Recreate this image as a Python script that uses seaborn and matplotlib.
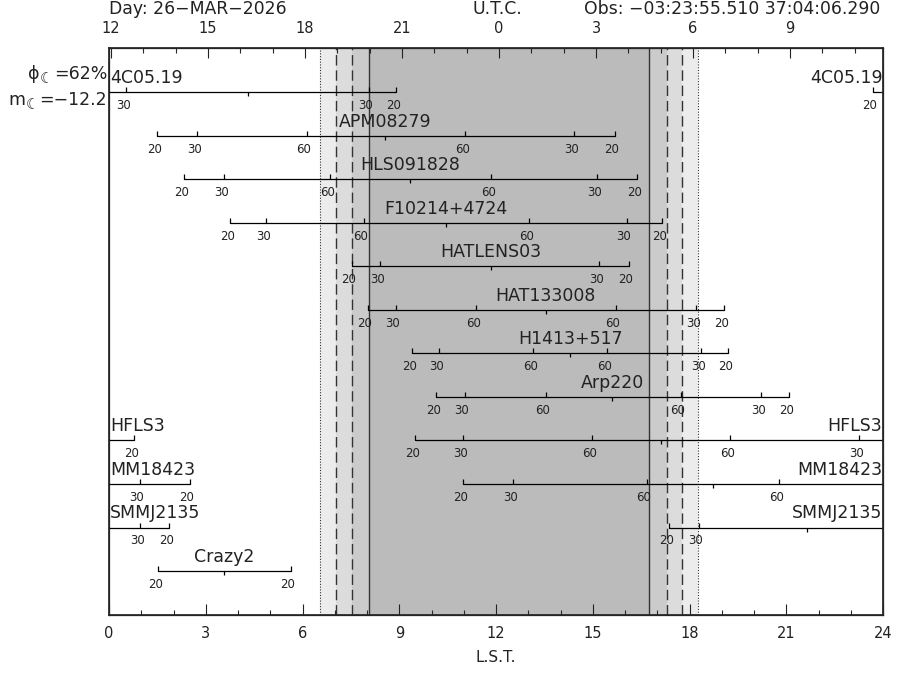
import numpy as np
import pandas as pd
import matplotlib
matplotlib.use("Agg")
import matplotlib.pyplot as plt
import seaborn as sns

sns.set_theme(style="ticks")
plt.rcParams['font.family'] = ['DejaVu Sans']

# Objetos y tiempos (LST, horas) donde cruzan 20, 30, 60 grados de elevacion
names = ["4C05.19", "APM08279", "HLS091828", "F10214+4724", "HATLENS03",
         "HAT133008", "H1413+517", "Arp220", "HFLS3", "MM18423",
         "SMMJ2135", "Crazy2"]
rise20 = [-0.32, 1.50, 2.34, 3.76, 7.53, 8.02, 9.41, 10.15, 9.50, 10.99, 17.37, 1.53]
rise30 = [0.54, 2.74, 3.58, 4.88, 8.41, 8.89, 10.24, 11.03, 10.99, 12.54, 18.29, None]
rise60 = [None, 6.13, 6.86, 7.90, None, 11.38, 13.16, 13.54, 14.99, 16.67, None, None]
transit = [4.30, 8.57, 9.33, 10.46, 11.83, 13.54, 14.30, 15.61, 17.12, 18.74, 21.63, 3.58]
set60 = [None, 11.05, 11.85, 13.03, None, 15.71, 15.45, 17.73, 19.26, 20.78, None, None]
set30 = [8.05, 14.43, 15.14, 16.05, 15.20, 18.21, 18.37, 20.23, 23.26, 24.95, 24.97, None]
set20 = [8.91, 15.68, 16.38, 17.16, 16.11, 19.08, 19.20, 21.09, 24.78, 26.50, 25.87, 5.63]

# Noche: ocaso/orto del sol y crepusculos (LST)
sunset = 6.53
civil_end = 7.05
naut_end = 7.54
astro_end = 8.07
astro_start = 16.74
naut_start = 17.29
civil_start = 17.78
sunrise = 18.27

# eje superior en U.T.C.
utc_hours = [12, 13, 14, 15, 16, 17, 18, 19, 20, 21, 22, 23,
             0, 1, 2, 3, 4, 5, 6, 7, 8, 9, 10, 11]
utc12_lst = 0.06

fig = plt.figure(figsize=(9.15, 6.75), dpi=100)
ax = fig.add_axes([109 / 915, 60 / 675, 774 / 915, 567.3 / 675])

ax.axvspan(sunset, sunrise, color="#ececec", lw=0, zorder=0)
ax.axvspan(civil_end, civil_start, color="#dcdcdc", lw=0, zorder=0)
ax.axvspan(naut_end, naut_start, color="#cbcbcb", lw=0, zorder=0)
ax.axvspan(astro_end, astro_start, color="#bbbbbb", lw=0, zorder=0)
for x in (sunset, sunrise):
    ax.axvline(x, color="#333333", lw=0.8, ls=(0, (1, 1.5)), zorder=1)
for x in (civil_end, naut_end, naut_start, civil_start):
    ax.axvline(x, color="#333333", lw=1.0, ls=(0, (7.5, 3.5)), zorder=1)
for x in (astro_end, astro_start):
    ax.axvline(x, color="#333333", lw=1.0, zorder=1)

up = 0.115
down = 0.092
rows = []
seg = 0
for i, name in enumerate(names):
    marks = [(rise20[i], "20"), (rise30[i], "30"), (rise60[i], "60"),
             (set60[i], "60"), (set30[i], "30"), (set20[i], "20")]
    wrapped = rise20[i] < 0 or set20[i] > 24
    for shift in (-24, 0, 24):
        a, b = rise20[i] + shift, set20[i] + shift
        if b < 0 or a > 24:
            continue
        rows.append({"lst": a, "row": i, "seg": seg})
        rows.append({"lst": b, "row": i, "seg": seg})
        seg += 1
        for val, lab in marks:
            if val is None:
                continue
            x = val + shift
            if 0 <= x <= 24:
                ax.vlines(x, i, i - up, color="black", lw=0.9, zorder=3)
                ax.text(x - 0.09, i + 0.16, lab, ha="center", va="top",
                        fontsize=8.5, color="#222222", zorder=4)
        t = transit[i] + shift
        if 0 <= t <= 24:
            ax.vlines(t, i, i + down, color="black", lw=0.9, zorder=3)
            if not wrapped:
                ax.text(t, i - 0.21, name, ha="center", va="baseline",
                        fontsize=12.5, color="#222222", zorder=4)
    if wrapped:
        ax.text(0.03, i - 0.21, name, ha="left", va="baseline",
                fontsize=12.5, color="#222222", zorder=4)
        ax.text(23.98, i - 0.21, name, ha="right", va="baseline",
                fontsize=12.5, color="#222222", zorder=4)

tracks = pd.DataFrame(rows)
sns.lineplot(data=tracks, x="lst", y="row", units="seg", estimator=None,
             sort=False, color="black", lw=0.9, legend=False, ax=ax, zorder=3)

ax.set_xlim(0, 24)
ax.set_ylim(12.01, -1.025)
ax.set_yticks([])
ax.set_xlabel("")
ax.set_ylabel("")
ax.set_xticks(np.arange(0, 25, 3))
ax.set_xticks(np.arange(0, 25, 1), minor=True)
ax.tick_params(axis="x", which="major", direction="in", length=8, width=0.8,
               bottom=True, top=False, labelsize=10.5, pad=8, colors="#222222")
ax.tick_params(axis="x", which="minor", direction="in", length=3.6, width=0.8,
               bottom=True, top=False)
for sp in ax.spines.values():
    sp.set_visible(True)
    sp.set_color("#222222")
    sp.set_linewidth(0.9)

ax2 = ax.twiny()
ax2.set_xlim(0, 24)
utc_pos = [utc12_lst + k * 1.0027379 for k in range(len(utc_hours))]
ax2.set_xticks(utc_pos[::3])
ax2.set_xticklabels([str(h) for h in utc_hours[::3]])
ax2.set_xticks([p for k, p in enumerate(utc_pos) if k % 3], minor=True)
ax2.tick_params(axis="x", which="major", direction="in", length=7.5, width=0.8,
                top=True, bottom=False, labelsize=10.5, pad=8.5, colors="#222222")
ax2.tick_params(axis="x", which="minor", direction="in", length=3.6, width=0.8,
                top=True, bottom=False)
ax2.set_yticks([])

fig.text(109 / 915, 1 - 9 / 675, "Day: 26−MAR−2026", ha="left", va="center",
         fontsize=12.4, color="#222222")
fig.text(497 / 915, 1 - 9 / 675, "U.T.C.", ha="center", va="center",
         fontsize=12.4, color="#222222")
fig.text(880 / 915, 1 - 9 / 675, "Obs: −03:23:55.510 37:04:06.290",
         ha="right", va="center", fontsize=12.4, color="#222222")
fig.text(496 / 915, 1 - 657 / 675, "L.S.T.", ha="center", va="center",
         fontsize=11, color="#222222")

# fase y magnitud de la luna
for txt, ypx, sym in (("=62%", 79, "ϕ"), ("=−12.2", 105, "m")):
    t1 = fig.text(107 / 915, 1 - ypx / 675, txt, ha="right", va="baseline",
                  fontsize=12.5, color="#222222")
    moon = ax.annotate("☾", xy=(0, 0), xycoords=t1, xytext=(-0.2, -2.5),
                       textcoords="offset points", ha="right", va="bottom",
                       fontsize=11, fontweight="bold", color="#222222",
                       annotation_clip=False)
    ax.annotate(sym, xy=(0, 0), xycoords=(moon, t1), xytext=(-0.2, 0),
                textcoords="offset points", ha="right", va="bottom",
                fontsize=12.5, color="#222222", annotation_clip=False)

fig.savefig("out.png", dpi=100)
